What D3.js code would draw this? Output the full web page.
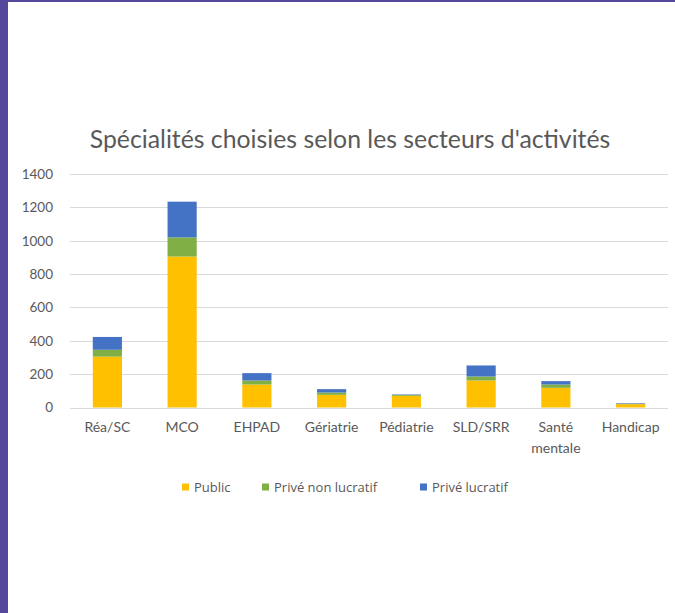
<!DOCTYPE html>
<html>
<head>
<meta charset="utf-8">
<script src="https://cdn.jsdelivr.net/npm/d3@7/dist/d3.min.js"></script>
<style>
  html, body { margin: 0; padding: 0; background: #fff; }
  svg { display: block; }
  text { font-family: Lato, "Open Sans", sans-serif; fill: #595959; }
</style>
</head>
<body>
<div id="chart"></div>
<script>
const categories = ['Réa/SC', 'MCO', 'EHPAD', 'Gériatrie', 'Pédiatrie', 'SLD/SRR', 'Santé mentale', 'Handicap'];
const seriesNames = ['Public', 'Privé non lucratif', 'Privé lucratif'];
const publicValues = [305, 905, 138, 76, 70, 162, 118, 20];
const priveNonLucratif = [41, 115, 24, 14, 5, 24, 20, 3];
const priveLucratif = [77, 214, 44, 20, 3, 66, 20, 3];
const yTicks = [0, 200, 400, 600, 800, 1000, 1200, 1400];

const colors = {
  frame: '#55479A',
  grid: '#D9D9D9',
  series: ['#FFC000', '#7FAF45', '#4472C4']
};

const W = 675, H = 613;
const margin = { top: 174, right: 7, bottom: 206, left: 70 };

const svg = d3.select('#chart').append('svg')
  .attr('width', W)
  .attr('height', H);

// purple frame on the left and top edges
svg.append('rect').attr('x', 0).attr('y', 0).attr('width', 8).attr('height', H).attr('fill', colors.frame);
svg.append('rect').attr('x', 0).attr('y', 0).attr('width', W).attr('height', 2).attr('fill', colors.frame);

const rows = categories.map((c, i) => ({
  cat: c,
  s0: publicValues[i],
  s1: priveNonLucratif[i],
  s2: priveLucratif[i]
}));
const stacked = d3.stack().keys(['s0', 's1', 's2'])(rows);

const x = d3.scaleBand()
  .domain(categories)
  .range([margin.left, W - margin.right])
  .paddingInner(0.61)
  .paddingOuter(0.305);

const y = d3.scaleLinear()
  .domain([0, 1400])
  .range([H - margin.bottom + 0.5, margin.top]);

// title
svg.append('text')
  .attr('x', 350)
  .attr('y', 148)
  .attr('text-anchor', 'middle')
  .style('font-size', '24.8px')
  .text('Spécialités choisies selon les secteurs d\'activités');

// y axis labels
const yAxis = d3.axisLeft(y).tickValues(yTicks).tickSize(0).tickPadding(17).tickFormat(d3.format('d'));
const gy = svg.append('g')
  .attr('transform', `translate(${margin.left},0)`)
  .call(yAxis);
gy.select('.domain').remove();
gy.selectAll('text').style('font-size', '13.5px').style('font-family', 'Lato, sans-serif').attr('fill', '#595959');

// gridlines
svg.append('g').selectAll('line')
  .data(yTicks)
  .enter().append('line')
  .attr('x1', margin.left)
  .attr('x2', W - margin.right)
  .attr('y1', d => Math.round(y(d)) + 0.5)
  .attr('y2', d => Math.round(y(d)) + 0.5)
  .attr('stroke', colors.grid)
  .attr('stroke-width', 1);

// bars
svg.append('g').selectAll('g')
  .data(stacked)
  .enter().append('g')
  .attr('fill', (d, i) => colors.series[i])
  .selectAll('rect')
  .data(d => d)
  .enter().append('rect')
  .attr('x', d => x(d.data.cat))
  .attr('width', x.bandwidth())
  .attr('y', d => y(d[1]))
  .attr('height', d => y(d[0]) - y(d[1]));

// category labels
const xAxis = d3.axisBottom(x).tickSize(0).tickPadding(15);
const gx = svg.append('g')
  .attr('transform', `translate(0,${H - margin.bottom})`)
  .call(xAxis);
gx.select('.domain').remove();
gx.selectAll('text')
  .style('font-size', '14px')
  .style('font-family', 'Lato, sans-serif')
  .attr('fill', '#595959')
  .each(function (d) {
    const t = d3.select(this);
    if (d === 'Santé mentale') {
      t.text(null);
      t.append('tspan').attr('x', 0).attr('dy', '0.71em').text('Santé');
      t.append('tspan').attr('x', 0).attr('dy', '1.5em').text('mentale');
      t.attr('dy', null);
    }
  });

// legend
const legendX = [182, 262, 420];
const legend = svg.append('g').selectAll('g')
  .data(seriesNames)
  .enter().append('g')
  .attr('transform', (d, i) => `translate(${legendX[i]},487)`);

legend.append('rect')
  .attr('x', 0)
  .attr('y', -3.5)
  .attr('width', 7)
  .attr('height', 7)
  .attr('fill', (d, i) => colors.series[i]);

legend.append('text')
  .attr('x', 12)
  .attr('y', 5)
  .style('font-size', '13px')
  .style('font-family', '"Open Sans", sans-serif')
  .text(d => d);
</script>
</body>
</html>
